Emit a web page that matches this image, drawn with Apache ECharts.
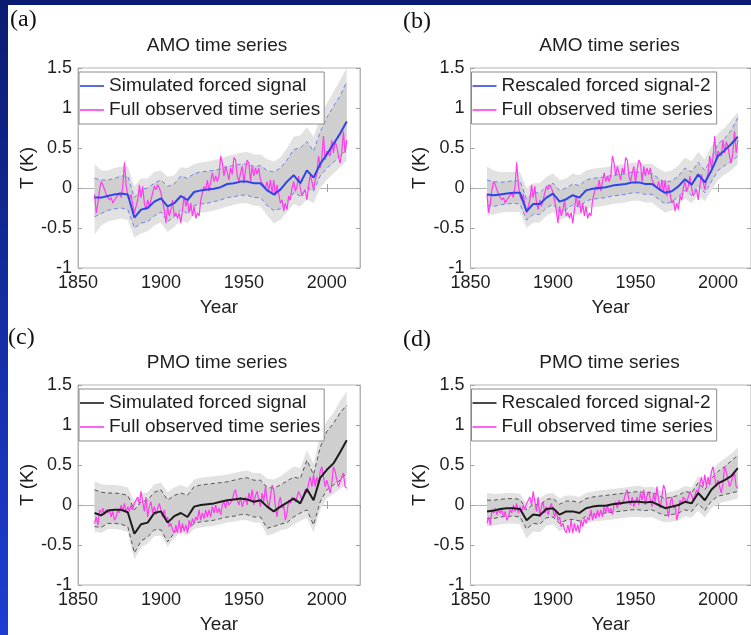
<!DOCTYPE html>
<html>
<head>
<meta charset="utf-8">
<script src="https://cdn.jsdelivr.net/npm/echarts@6/dist/echarts.min.js"></script>
<style>
html, body { margin: 0; padding: 0; }
body { width: 751px; height: 635px; overflow: hidden; position: relative;
       background: linear-gradient(to bottom, #0b1b72, #1c3ed2); }
#paper { position: absolute; left: 8px; top: 5px; width: 743px; height: 630px; background: #fff; }
#main { position: absolute; left: 0; top: 0; width: 751px; height: 635px; }
</style>
</head>
<body>
<div id="paper"></div>
<div id="main"></div>
<script>
// smooth curves are read every 4 years
var yrs = [1860,1864,1868,1872,1876,1880,1884,1888,1892,1896,1900,1904,1908,1912,1916,1920,1924,1928,1932,1936,
           1940,1944,1948,1952,1956,1960,1964,1968,1972,1976,1980,1984,1988,1992,1996,2000,2004,2008,2012];

// (a) AMO simulated forced signal, dashed range, ensemble spread
var amoSim   = [-0.12,-0.12,-0.10,-0.08,-0.07,-0.08,-0.37,-0.27,-0.25,-0.17,-0.13,-0.23,-0.19,-0.10,-0.15,-0.05,-0.03,-0.02,-0.01,0.01,0.05,0.06,0.08,0.08,0.06,0.06,-0.03,-0.08,-0.02,0.08,0.16,0.06,0.22,0.13,0.30,0.42,0.55,0.68,0.83];
var amoSimHi = [0.12,0.10,0.10,0.12,0.15,0.15,-0.12,-0.02,0.00,0.06,0.10,0.02,0.05,0.15,0.12,0.18,0.20,0.21,0.22,0.24,0.27,0.28,0.30,0.30,0.27,0.28,0.22,0.20,0.25,0.35,0.48,0.50,0.58,0.46,0.70,0.88,1.02,1.15,1.33];
var amoSimLo = [-0.36,-0.32,-0.28,-0.26,-0.25,-0.27,-0.50,-0.44,-0.42,-0.35,-0.30,-0.42,-0.36,-0.27,-0.32,-0.22,-0.20,-0.19,-0.17,-0.15,-0.12,-0.11,-0.09,-0.09,-0.12,-0.12,-0.22,-0.28,-0.26,-0.18,-0.06,-0.10,0.00,-0.04,0.15,0.25,0.32,0.40,0.48];
var amoSpreadHi = [0.30,0.22,0.22,0.25,0.27,0.27,0.02,0.12,0.12,0.20,0.22,0.14,0.16,0.26,0.25,0.30,0.32,0.33,0.35,0.37,0.40,0.42,0.44,0.45,0.42,0.42,0.36,0.33,0.38,0.50,0.64,0.66,0.76,0.64,0.88,1.06,1.20,1.35,1.50];
var amoSpreadLo = [-0.58,-0.47,-0.42,-0.40,-0.38,-0.40,-0.62,-0.57,-0.54,-0.47,-0.43,-0.55,-0.49,-0.40,-0.44,-0.34,-0.31,-0.30,-0.28,-0.26,-0.23,-0.21,-0.19,-0.19,-0.22,-0.23,-0.34,-0.44,-0.40,-0.30,-0.20,-0.23,-0.14,-0.19,0.00,0.10,0.18,0.26,0.34];

// (b) AMO rescaled forced signal-2
var amoRes   = [-0.08,-0.09,-0.08,-0.07,-0.06,-0.06,-0.29,-0.20,-0.20,-0.12,-0.07,-0.17,-0.14,-0.09,-0.12,-0.03,-0.01,0.00,0.01,0.03,0.04,0.05,0.07,0.07,0.05,0.05,-0.01,-0.06,-0.04,0.02,0.11,0.04,0.17,0.07,0.22,0.40,0.47,0.55,0.64];
var amoResHi = [0.10,0.08,0.07,0.08,0.09,0.09,-0.14,-0.06,-0.06,0.02,0.06,-0.03,0.00,0.05,0.03,0.10,0.12,0.13,0.14,0.16,0.17,0.18,0.20,0.20,0.18,0.18,0.12,0.07,0.09,0.15,0.25,0.20,0.32,0.22,0.38,0.55,0.62,0.72,0.88];
var amoResLo = [-0.22,-0.23,-0.21,-0.20,-0.19,-0.20,-0.40,-0.33,-0.33,-0.25,-0.20,-0.30,-0.27,-0.21,-0.24,-0.16,-0.14,-0.13,-0.12,-0.10,-0.09,-0.08,-0.06,-0.06,-0.08,-0.08,-0.14,-0.20,-0.17,-0.11,-0.03,-0.09,0.03,-0.06,0.08,0.22,0.28,0.33,0.40];
var amoResSpreadHi = [0.27,0.22,0.20,0.20,0.20,0.20,0.00,0.06,0.06,0.14,0.18,0.10,0.12,0.18,0.16,0.22,0.24,0.25,0.26,0.28,0.29,0.30,0.32,0.32,0.30,0.30,0.24,0.20,0.22,0.28,0.38,0.33,0.45,0.36,0.52,0.68,0.75,0.85,0.95];
var amoResSpreadLo = [-0.33,-0.33,-0.31,-0.30,-0.30,-0.30,-0.50,-0.43,-0.43,-0.35,-0.30,-0.40,-0.37,-0.31,-0.34,-0.26,-0.24,-0.23,-0.22,-0.20,-0.19,-0.18,-0.16,-0.16,-0.18,-0.18,-0.25,-0.31,-0.28,-0.22,-0.13,-0.19,-0.08,-0.17,-0.03,0.10,0.17,0.22,0.30];

// (c) PMO simulated forced signal
var pmoSim   = [-0.10,-0.13,-0.07,-0.06,-0.06,-0.09,-0.36,-0.24,-0.22,-0.10,-0.08,-0.22,-0.14,-0.10,-0.15,-0.02,0.00,0.01,0.02,0.04,0.06,0.07,0.08,0.07,0.04,0.06,-0.02,-0.08,-0.02,0.03,0.08,0.02,0.20,0.06,0.34,0.44,0.52,0.66,0.81];
var pmoSimHi = [0.19,0.16,0.15,0.15,0.14,0.12,-0.06,0.04,0.06,0.16,0.19,0.06,0.12,0.15,0.12,0.23,0.25,0.26,0.27,0.28,0.29,0.31,0.33,0.34,0.31,0.31,0.22,0.21,0.25,0.30,0.35,0.33,0.56,0.38,0.72,0.92,1.02,1.15,1.25];
var pmoSimLo = [-0.27,-0.28,-0.23,-0.23,-0.24,-0.27,-0.60,-0.45,-0.40,-0.31,-0.31,-0.46,-0.35,-0.27,-0.31,-0.23,-0.21,-0.20,-0.19,-0.17,-0.15,-0.14,-0.12,-0.12,-0.15,-0.15,-0.29,-0.27,-0.24,-0.22,-0.15,-0.10,-0.06,-0.25,0.04,0.19,0.25,0.31,0.40];
var pmoSpreadHi = [0.30,0.26,0.25,0.25,0.24,0.22,0.05,0.14,0.16,0.26,0.28,0.16,0.22,0.25,0.22,0.32,0.34,0.35,0.36,0.37,0.38,0.40,0.42,0.43,0.40,0.40,0.33,0.32,0.36,0.42,0.48,0.46,0.68,0.52,0.88,1.05,1.15,1.30,1.42];
var pmoSpreadLo = [-0.33,-0.35,-0.30,-0.30,-0.31,-0.34,-0.68,-0.53,-0.48,-0.39,-0.38,-0.52,-0.42,-0.34,-0.38,-0.30,-0.28,-0.27,-0.26,-0.24,-0.22,-0.21,-0.19,-0.19,-0.22,-0.22,-0.38,-0.36,-0.32,-0.30,-0.24,-0.20,-0.16,-0.34,-0.06,0.08,0.14,0.20,0.26];

// (d) PMO rescaled forced signal-2
var pmoRes   = [-0.08,-0.07,-0.05,-0.04,-0.04,-0.05,-0.19,-0.12,-0.13,-0.05,-0.04,-0.12,-0.08,-0.08,-0.10,-0.04,-0.02,-0.01,-0.01,0.01,0.02,0.03,0.04,0.04,0.03,0.04,0.00,-0.04,-0.02,0.00,0.04,0.02,0.15,0.06,0.19,0.27,0.31,0.36,0.46];
var pmoResHi = [0.06,0.06,0.07,0.08,0.08,0.07,-0.06,0.01,0.00,0.07,0.08,0.01,0.05,0.05,0.03,0.08,0.10,0.11,0.12,0.13,0.14,0.15,0.16,0.17,0.15,0.16,0.12,0.08,0.10,0.12,0.17,0.15,0.28,0.19,0.33,0.42,0.48,0.55,0.62];
var pmoResLo = [-0.17,-0.17,-0.15,-0.14,-0.14,-0.15,-0.30,-0.23,-0.24,-0.16,-0.15,-0.23,-0.19,-0.18,-0.20,-0.14,-0.12,-0.11,-0.10,-0.09,-0.08,-0.07,-0.06,-0.06,-0.07,-0.06,-0.10,-0.13,-0.12,-0.10,-0.06,-0.08,0.02,-0.07,0.05,0.11,0.13,0.15,0.17];
var pmoResSpreadHi = [0.15,0.14,0.14,0.15,0.15,0.14,0.02,0.08,0.08,0.14,0.15,0.08,0.12,0.12,0.10,0.15,0.17,0.18,0.19,0.20,0.21,0.22,0.23,0.24,0.22,0.23,0.19,0.15,0.17,0.19,0.24,0.22,0.36,0.28,0.42,0.52,0.58,0.64,0.72];
var pmoResSpreadLo = [-0.27,-0.26,-0.24,-0.23,-0.23,-0.24,-0.42,-0.33,-0.34,-0.26,-0.24,-0.33,-0.28,-0.27,-0.29,-0.23,-0.21,-0.20,-0.19,-0.18,-0.17,-0.16,-0.15,-0.15,-0.16,-0.15,-0.19,-0.22,-0.21,-0.19,-0.14,-0.16,-0.07,-0.16,-0.04,0.02,0.04,0.06,0.08];

// observed annual series, 1860..2012
var obsStart = 1860;
var amoObs = [
  -0.08,-0.31,-0.19,-0.02,0.08,0.04,0.02,-0.08,-0.12,-0.15,
  -0.12,-0.19,-0.15,-0.12,-0.10,-0.06,-0.12,0.02,0.32,0.04,
  -0.10,-0.15,-0.08,-0.21,-0.31,-0.23,-0.15,0.04,-0.12,0.02,
  -0.19,-0.27,-0.15,-0.23,-0.15,-0.06,0.02,-0.02,0.04,0.00,
  -0.06,-0.04,-0.27,-0.44,-0.23,-0.35,-0.27,-0.15,-0.35,-0.31,
  -0.38,-0.31,-0.44,-0.27,-0.10,-0.23,-0.15,-0.31,-0.19,-0.35,
  -0.23,-0.38,-0.31,-0.35,-0.15,-0.06,0.02,-0.02,0.10,-0.04,
  0.08,0.19,0.08,0.15,0.08,0.15,0.40,0.31,0.15,0.27,
  0.19,0.10,0.25,0.17,0.38,0.35,0.15,0.08,0.19,0.27,
  0.06,0.23,0.35,0.31,0.08,0.27,0.15,0.25,0.17,0.25,
  0.10,0.06,0.08,0.00,0.08,-0.04,0.10,-0.06,0.10,-0.10,
  0.04,0.02,-0.19,-0.15,-0.29,-0.19,-0.27,-0.10,-0.15,0.00,
  0.08,-0.04,0.02,0.15,0.00,-0.10,-0.06,-0.02,-0.15,0.02,
  0.17,0.08,-0.02,0.10,0.19,0.40,0.25,0.38,0.65,0.35,
  0.46,0.48,0.40,0.60,0.44,0.58,0.52,0.40,0.31,0.44,
  0.71,0.44,0.60];
var pmoObs = [
  -0.23,-0.15,-0.25,-0.06,-0.10,-0.04,-0.12,-0.06,-0.10,-0.06,
  -0.15,-0.08,-0.19,-0.15,-0.06,-0.10,0.00,-0.08,0.02,-0.10,
  -0.02,-0.08,0.00,-0.06,0.02,0.00,0.10,0.00,0.17,0.04,
  -0.08,0.10,-0.15,-0.02,0.04,-0.10,-0.02,-0.12,-0.04,0.02,
  -0.06,-0.15,-0.06,-0.19,-0.15,-0.27,-0.23,-0.31,-0.35,-0.25,
  -0.35,-0.19,-0.35,-0.23,-0.33,-0.25,-0.35,-0.19,-0.27,-0.17,
  -0.23,-0.15,-0.19,-0.06,-0.19,-0.10,-0.17,-0.06,-0.15,-0.06,
  -0.15,-0.02,-0.10,0.00,-0.10,-0.04,-0.12,0.00,0.04,-0.04,
  0.06,0.00,-0.02,0.06,0.15,0.19,0.06,0.00,0.10,-0.02,
  0.04,0.10,0.00,0.15,0.06,0.19,0.00,0.12,0.17,0.06,
  -0.02,0.15,0.04,0.23,0.06,-0.04,0.10,0.25,0.19,-0.02,
  -0.15,0.02,0.10,-0.04,0.00,-0.19,-0.10,0.06,0.02,0.10,
  0.12,0.04,0.10,0.17,0.12,0.06,0.12,0.19,0.15,0.27,
  0.35,0.23,0.38,0.23,0.35,0.25,0.42,0.48,0.35,0.23,
  0.31,0.23,0.15,0.27,0.48,0.42,0.31,0.23,0.21,0.35,
  0.40,0.23,0.21];

var xTicks = [1850, 2020, 50];
var yTicks = [-1, 1.5, 0.5];

var FONT = '"Liberation Sans", Arial, Helvetica, sans-serif';
var TXT = '#1e1e1e';
var BOX = '#b4b4b4';

var panels = [
  { tag: '(a)', tagX: 10, tagY: 8,   left: 78,    top: 68,  title: 'AMO time series',
    sim: amoSim, hi: amoSimHi, lo: amoSimLo, sHi: amoSpreadHi, sLo: amoSpreadLo, obs: amoObs,
    color: '#3043ea', dash: '#7482e2', simName: 'Simulated forced signal' },
  { tag: '(b)', tagX: 403, tagY: 10, left: 470.5, top: 68,  title: 'AMO time series',
    sim: amoRes, hi: amoResHi, lo: amoResLo, sHi: amoResSpreadHi, sLo: amoResSpreadLo, obs: amoObs,
    color: '#3043ea', dash: '#7482e2', simName: 'Rescaled forced signal-2' },
  { tag: '(c)', tagX: 8,  tagY: 326, left: 78,    top: 385, title: 'PMO time series',
    sim: pmoSim, hi: pmoSimHi, lo: pmoSimLo, sHi: pmoSpreadHi, sLo: pmoSpreadLo, obs: pmoObs,
    color: '#1c1c1c', dash: '#555555', simName: 'Simulated forced signal' },
  { tag: '(d)', tagX: 403, tagY: 328, left: 470.5, top: 385, title: 'PMO time series',
    sim: pmoRes, hi: pmoResHi, lo: pmoResLo, sHi: pmoResSpreadHi, sLo: pmoResSpreadLo, obs: pmoObs,
    color: '#1c1c1c', dash: '#555555', simName: 'Rescaled forced signal-2' }
];

var PW = 282, PH = 200;

function pairs(xs, ys) {
  return ys.map(function (v, i) { return [xs[i], v]; });
}
function obsPairs(ys) {
  return ys.map(function (v, i) { return [obsStart + i, v]; });
}
function bandSeries(i, hiArr, loArr, fill) {
  return {
    type: 'custom', xAxisIndex: 2 * i, yAxisIndex: 2 * i, silent: true, clip: true, z: 1,
    data: [[yrs[0], loArr[0]]],
    renderItem: function (params, api) {
      var pts = [];
      for (var k = 0; k < yrs.length; k++) pts.push(api.coord([yrs[k], hiArr[k]]));
      for (var k2 = yrs.length - 1; k2 >= 0; k2--) pts.push(api.coord([yrs[k2], loArr[k2]]));
      return { type: 'polygon', shape: { points: pts }, style: { fill: fill } };
    }
  };
}

var grids = [], xAxes = [], yAxes = [], series = [], titles = [], legends = [], graphics = [];
var legendNames = {};

panels.forEach(function (p, i) {
  grids.push({ left: p.left, top: p.top, width: PW, height: PH, show: true,
               borderColor: BOX, borderWidth: 1, backgroundColor: '#fff' });

  var tickStyle = { show: true, inside: true, length: 4, lineStyle: { color: '#a0a0a0' } };
  xAxes.push({
    type: 'value', gridIndex: i, position: 'bottom', min: xTicks[0], max: xTicks[1], interval: xTicks[2],
    name: 'Year', nameLocation: 'middle', nameGap: 30,
    nameTextStyle: { fontFamily: FONT, fontSize: 19, color: TXT },
    axisLine: { show: true, lineStyle: { color: BOX } }, axisTick: tickStyle,
    axisLabel: { fontFamily: FONT, fontSize: 18, color: TXT, margin: 6, showMaxLabel: false,
                 formatter: function (v) { return String(v); } },
    splitLine: { show: false }
  });
  xAxes.push({
    type: 'value', gridIndex: i, position: 'top', min: xTicks[0], max: xTicks[1], interval: xTicks[2],
    axisLine: { show: true, lineStyle: { color: BOX } }, axisTick: tickStyle,
    axisLabel: { show: false }, splitLine: { show: false }
  });
  yAxes.push({
    type: 'value', gridIndex: i, position: 'left', min: yTicks[0], max: yTicks[1], interval: yTicks[2],
    name: 'T (K)', nameLocation: 'middle', nameGap: 38, nameRotate: 90,
    nameTextStyle: { fontFamily: FONT, fontSize: 19, color: TXT },
    axisLine: { show: true, lineStyle: { color: BOX } }, axisTick: tickStyle,
    axisLabel: { fontFamily: FONT, fontSize: 18, color: TXT, margin: 6,
                 formatter: function (v) { return String(v); } },
    splitLine: { show: false }
  });
  yAxes.push({
    type: 'value', gridIndex: i, position: 'right', min: yTicks[0], max: yTicks[1], interval: yTicks[2],
    axisLine: { show: true, lineStyle: { color: BOX } }, axisTick: tickStyle,
    axisLabel: { show: false }, splitLine: { show: false }
  });

  var fName = 'f' + i, oName = 'o' + i;
  legendNames[fName] = p.simName;
  legendNames[oName] = 'Full observed time series';

  series.push(bandSeries(i, p.sHi, p.sLo, '#e2e2e2'));
  series.push(bandSeries(i, p.hi, p.lo, '#cfcfcf'));
  [p.hi, p.lo].forEach(function (arr) {
    series.push({ type: 'line', xAxisIndex: 2 * i, yAxisIndex: 2 * i, symbol: 'none', silent: true, z: 2,
                  data: pairs(yrs, arr), lineStyle: { color: p.dash, width: 1, type: [4, 3] } });
  });
  series.push({ name: oName, type: 'line', xAxisIndex: 2 * i, yAxisIndex: 2 * i, symbol: 'none', z: 3,
                data: obsPairs(p.obs), lineStyle: { color: '#ff3cee', width: 1.2 }, itemStyle: { color: '#ff3cee' } });
  series.push({ name: fName, type: 'line', xAxisIndex: 2 * i, yAxisIndex: 2 * i, symbol: 'none', z: 4,
                data: pairs(yrs, p.sim), lineStyle: { color: p.color, width: 2 }, itemStyle: { color: p.color } });

  titles.push({ text: p.title, left: p.left + PW / 2 - 2, top: p.top - 32, textAlign: 'center', padding: 0,
                textStyle: { fontFamily: FONT, fontSize: 19, fontWeight: 'normal', color: TXT } });

  legends.push({
    left: p.left + 1, top: p.top + 4, orient: 'vertical', data: [fName, oName],
    formatter: function (n) { return legendNames[n]; },
    icon: 'rect', itemWidth: 24, itemHeight: 1.6,
    selectedMode: false, backgroundColor: '#fff', borderColor: '#8a8a8a', borderWidth: 1,
    padding: [4, 4, 4, 1], itemGap: 4,
    textStyle: { fontFamily: FONT, fontSize: 19, color: TXT, lineHeight: 20 }
  });

  graphics.push({ type: 'text', left: p.tagX, top: p.tagY,
                  style: { text: p.tag, font: '24px "Liberation Serif", "Times New Roman", serif', fill: '#111' } });
});

var chart = echarts.init(document.getElementById('main'), null, { renderer: 'canvas' });
chart.setOption({
  animation: false,
  backgroundColor: 'transparent',
  title: titles,
  legend: legends,
  grid: grids,
  xAxis: xAxes,
  yAxis: yAxes,
  series: series,
  graphic: graphics
});
</script>
</body>
</html>
